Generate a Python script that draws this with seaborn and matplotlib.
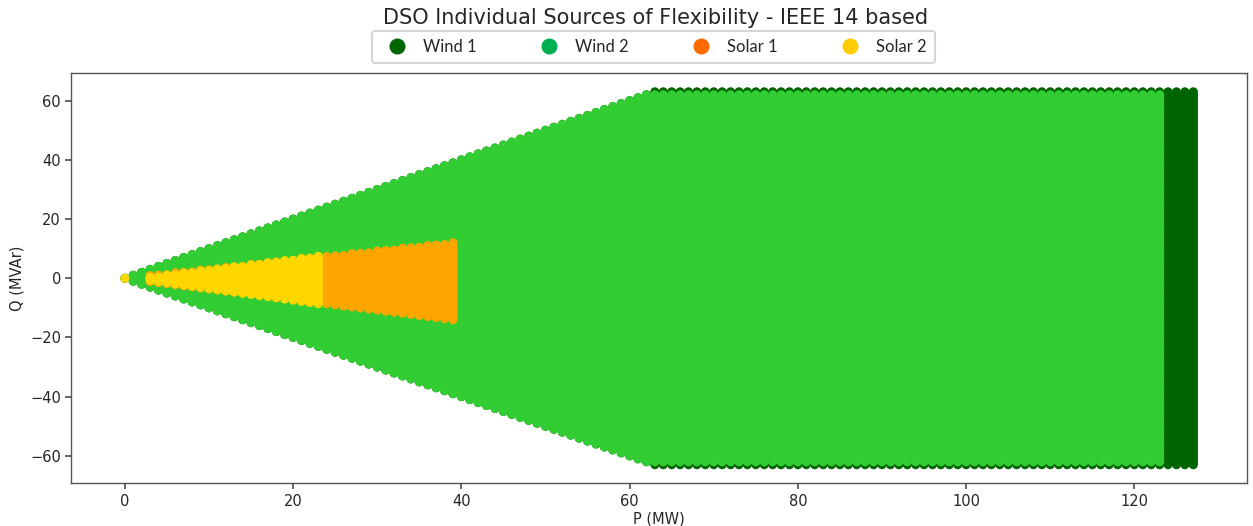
import numpy as np
import pandas as pd
import matplotlib
matplotlib.use("Agg")
import matplotlib.pyplot as plt
from matplotlib.lines import Line2D
import seaborn as sns

# ---- data ----
sources = ["Wind 1", "Wind 2", "Solar 1", "Solar 2"]
# boundary breakpoints of each source's P-Q capability region
wind1_p = [0, 63, 127]
wind1_qhi = [0, 63, 63]
wind1_qlo = [0, -63, -63]
wind2_p = [0, 62, 123]
wind2_qhi = [0, 62, 62]
wind2_qlo = [0, -62, -62]
solar1_p = [3, 39]
solar1_qhi = [0.9, 12.1]
solar1_qlo = [-1.1, -14.0]
solar2_p = [3, 23]
solar2_qhi = [0.5, 7.6]
solar2_qlo = [-0.7, -8.6]
origin_p = [0]
origin_q = [0]
p_step = 1.0
q_step = 0.5

plot_colors = ["#006400", "#32CD32", "#FFA500", "#FFD700"]
legend_colors = ["#006400", "#00B050", "#FF6A00", "#FFCC00"]

title = "DSO Individual Sources of Flexibility - IEEE 14 based"
xlabel = "P (MW)"
ylabel = "Q (MVAr)"
xticks = [0, 20, 40, 60, 80, 100, 120]
yticks = [-60, -40, -20, 0, 20, 40, 60]


def region(name, pb, hib, lob):
    rows = []
    ps = np.arange(pb[0], pb[-1] + 1e-9, p_step)
    for p in ps:
        hi = np.interp(p, pb, hib)
        lo = np.interp(p, pb, lob)
        qs = np.arange(lo, hi + 1e-9, q_step)
        if len(qs) == 0:
            qs = np.array([0.0])
        for q in qs:
            rows.append((name, p, q))
    return rows


rows = []
rows += region("Wind 1", wind1_p, wind1_qhi, wind1_qlo)
rows += region("Wind 2", wind2_p, wind2_qhi, wind2_qlo)
rows += region("Solar 1", solar1_p, solar1_qhi, solar1_qlo)
rows += region("Solar 2", solar2_p, solar2_qhi, solar2_qlo)
for p, q in zip(origin_p, origin_q):
    rows.append(("Solar 2", p, q))
df = pd.DataFrame(rows, columns=["source", "P", "Q"])

sns.set_theme(style="ticks")
plt.rcParams["font.family"] = ["DejaVu Sans"]

fig = plt.figure(figsize=(12.53, 5.26), dpi=100)
ax = fig.add_axes([0.057, 0.081, 0.938, 0.780])

sns.scatterplot(data=df, x="P", y="Q", hue="source", hue_order=sources,
                palette=dict(zip(sources, plot_colors)), s=42, linewidth=0,
                legend=False, ax=ax)

ax.set_xlim(-6.35, 133.35)
ax.set_ylim(-69.3, 69.3)
ax.set_xticks(xticks)
ax.set_yticks(yticks)
ax.tick_params(labelsize=10.5, length=4, color="#555555")
for sp in ax.spines.values():
    sp.set_color("#555555")
    sp.set_linewidth(1.0)
ax.set_xlabel(xlabel, fontsize=10.5, labelpad=2)
ax.set_ylabel(ylabel, fontsize=10.5, labelpad=4)

fig.text(0.523, 1 - 18 / 526, title, ha="center", va="center", fontsize=15)

handles = [Line2D([], [], marker="o", linestyle="none", markersize=10.5,
                  markerfacecolor=c, markeredgecolor=c) for c in legend_colors]
leg = fig.legend(handles, sources, loc="center", ncol=4,
                 bbox_to_anchor=(0.5215, 1 - 47 / 526), frameon=True,
                 prop={"family": "Lato", "size": 12}, columnspacing=3.3,
                 handletextpad=0.6, borderpad=0.5, borderaxespad=0.0,
                 fancybox=True)
leg.get_frame().set_edgecolor("#cccccc")
leg.get_frame().set_linewidth(1.5)

fig.savefig("out.png", dpi=100)
